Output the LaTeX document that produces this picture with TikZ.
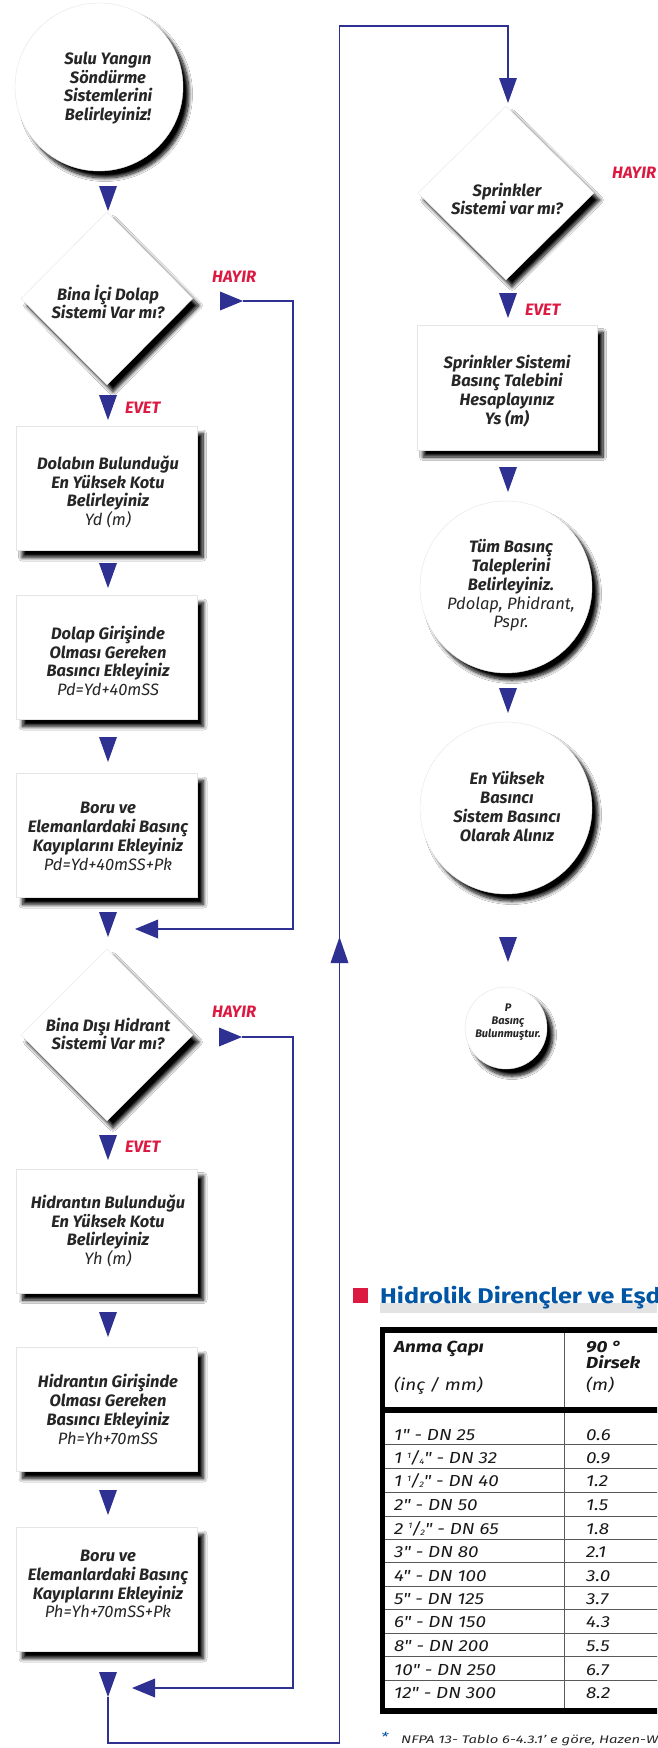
\documentclass[tikz,border=0pt]{standalone}
\usepackage{fontspec}
\setmainfont{Fira Sans}
\newfontfamily\tblfont{Fira Sans}[FakeStretch=1.18]
\newfontfamily\fnfont{Fira Sans}[FakeStretch=1.35]
\usetikzlibrary{shapes.geometric,shadows.blur}
\definecolor{flowblue}{RGB}{46,49,146}
\definecolor{labred}{RGB}{220,25,65}
\definecolor{titleblue}{RGB}{0,85,165}
\newcommand\myfrac[2]{\raisebox{0.6ex}{\fontsize{8}{8}\selectfont #1}\kern-0.05em/\kern-0.05em\raisebox{-0.15ex}{\fontsize{8}{8}\selectfont #2}}
\tikzset{
  shad/.style={blur shadow={shadow xshift=6pt, shadow yshift=-7pt, shadow blur radius=3.5pt, shadow blur steps=10, shadow opacity=100}},
  boxst/.style={rectangle, fill=white, draw=gray!20, line width=0.4pt, minimum width=181pt, minimum height=124pt, inner sep=0pt, shad},
  circst/.style={circle, fill=white, draw=gray!20, line width=0.4pt, inner sep=0pt, shad},
  diast/.style={diamond, fill=white, draw=gray!20, line width=0.4pt, inner sep=0pt, shad},
  ftxt/.style={align=center, inner sep=0pt, font=\fontsize{16.5}{18.8}\selectfont\bfseries\itshape, text=black!85},
  lab/.style={anchor=base west, inner sep=0pt, text=labred, font=\fontsize{16.5}{18}\selectfont\bfseries\itshape},
  flow/.style={draw=flowblue, line width=1.8pt},
  tbl/.style={anchor=base west, inner sep=0pt, font=\tblfont\fontsize{16}{18}\selectfont\itshape, text=black!90},
  tblh/.style={anchor=base west, inner sep=0pt, font=\tblfont\fontsize{16}{18}\selectfont\bfseries\itshape, text=black!90},
  trid/.pic={\fill[flowblue] (-9,0) -- (9,0) -- (0,25) -- cycle;},
  triu/.pic={\fill[flowblue] (-9,0) -- (9,0) -- (0,-26) -- cycle;},
  trir/.pic={\fill[flowblue] (0,-9.5) -- (0,9.5) -- (23,0) -- cycle;},
  tril/.pic={\fill[flowblue] (0,-9.5) -- (0,9.5) -- (-23,0) -- cycle;},
}
\begin{document}
\begin{tikzpicture}[x=1pt,y=-1pt]
\useasboundingbox (0,0) rectangle (657,1748);
\clip (0,0) rectangle (657,1748);
\fill[white] (0,0) rectangle (657,1748);

% ---------- left column ----------
\node[circst, minimum size=168pt] (c1) at (99,87) {};
\node[ftxt] (c1t) at (108,88) {Sulu Yangın\\Söndürme\\Sistemlerini\\Belirleyiniz!};

\node[diast, minimum width=172pt, minimum height=173pt] (d1) at (107,298.5) {};
\node[ftxt] (d1t) at (108,302) {Bina İçi Dolap\\Sistemi Var mı?};

\node[boxst] (b1) at (106.5,488.5) {};
\node[ftxt] (b1t) at (108,492) {Dolabın Bulunduğu\\En Yüksek Kotu\\Belirleyiniz\\{\mdseries Yd (m)}};

\node[boxst] (b2) at (107,657.5) {};
\node[ftxt] (b2t) at (108,661) {Dolap Girişinde\\Olması Gereken\\Basıncı Ekleyiniz\\{\mdseries Pd=Yd+40mSS}};

\node[boxst] (b3) at (107,835.5) {};
\node[ftxt] (b3t) at (108,836.5) {Boru ve\\Elemanlardaki Basınç\\Kayıplarını Ekleyiniz\\{\mdseries Pd=Yd+40mSS+Pk}};

\node[diast, minimum width=172pt, minimum height=172pt] (d2) at (107,1035) {};
\node[ftxt] (d2t) at (108,1034) {Bina Dışı Hidrant\\Sistemi Var mı?};

\node[boxst] (b4) at (107,1231) {};
\node[ftxt] (b4t) at (108,1231) {Hidrantın Bulunduğu\\En Yüksek Kotu\\Belirleyiniz\\{\mdseries Yh (m)}};

\node[boxst] (b5) at (107,1409.5) {};
\node[ftxt] (b5t) at (108,1409.5) {Hidrantın Girişinde\\Olması Gereken\\Basıncı Ekleyiniz\\{\mdseries Ph=Yh+70mSS}};

\node[boxst] (b6) at (107,1589.5) {};
\node[ftxt] (b6t) at (108,1584) {Boru ve\\Elemanlardaki Basınç\\Kayıplarını Ekleyiniz\\{\mdseries Ph=Yh+70mSS+Pk}};

% ---------- right column ----------
\node[diast, minimum width=176pt, minimum height=174pt] (d3) at (506,193) {};
\node[ftxt] (d3t) at (507,199) {Sprinkler\\Sistemi var mı?};

\node[boxst, minimum width=180pt, minimum height=125pt] (b7) at (507,387.5) {};
\node[ftxt] (b7t) at (507,391) {Sprinkler Sistemi\\Basınç Talebini\\Hesaplayınız\\Ys (m)};

\node[circst, minimum size=172pt] (c2) at (506,587) {};
\node[ftxt] (c2t) at (511,585.5) {Tüm Basınç\\Taleplerini\\Belirleyiniz.\\{\mdseries Pdolap, Phidrant,}\\{\mdseries Pspr.}};

\node[circst, minimum size=172pt] (c3) at (506,808) {};
\node[ftxt] (c3t) at (507,806.5) {En Yüksek\\Basıncı\\Sistem Basıncı\\Olarak Alınız};

\node[circst, minimum size=82pt] (c4) at (506,1028) {};
\node[ftxt, font=\fontsize{11}{13}\selectfont\bfseries\itshape] (c4t) at (508,1022) {P\\Basınç\\Bulunmuştur.};

% ---------- flow markers ----------
\foreach \yy in {186,395,563,737,912,1135,1312,1490,1672} \pic at (108,\yy) {trid};
\foreach \yy in {78,293,467,688,937} \pic at (508,\yy) {trid};
\pic at (220,301) {trir};
\pic at (219,1037) {trir};
\pic at (158,929) {tril};
\pic at (155,1688) {tril};
\pic at (339.5,963) {triu};

% ---------- connectors ----------
\coordinate (h1s) at (243,301);
\coordinate (h1a) at (293,301);
\coordinate (h1b) at (293,929);
\coordinate (h1e) at (158,929);
\draw[flow] (h1s) -- (h1a) -- (h1b) -- (h1e);

\coordinate (h2s) at (242,1037);
\coordinate (h2a) at (293,1037);
\coordinate (h2b) at (293,1688);
\coordinate (h2e) at (155,1688);
\draw[flow] (h2s) -- (h2a) -- (h2b) -- (h2e);

\coordinate (ls) at (108,1697);
\coordinate (la) at (108,1743);
\coordinate (lb) at (339.5,1743);
\coordinate (lc) at (339.5,26);
\coordinate (ld) at (508,26);
\coordinate (le) at (508,78);
\draw[flow] (ls) -- (la) -- (lb) -- (lc) -- (ld) -- (le);

% ---------- labels ----------
\node[lab] (hay1) at (212,282) {HAYIR};
\node[lab] (hay2) at (212,1017) {HAYIR};
\node[lab] (hay3) at (612,178) {HAYIR};
\node[lab] (ev1) at (125,413) {EVET};
\node[lab] (ev2) at (125,1152) {EVET};
\node[lab] (ev3) at (525,315) {EVET};

% ---------- title ----------
\fill[labred] (353,1288) rectangle (368,1303);
\fill[gray!22] (380,1303) rectangle (657,1313);
\node[anchor=base west, inner sep=0pt, text=titleblue, font=\tblfont\fontsize{21.3}{24}\selectfont\bfseries] (title) at (380,1303) {Hidrolik Dirençler ve Eşdeğer Uzunluklar};

% ---------- table ----------
\foreach \yy in {1444.3,1468.3,1492.3,1516,1539.3,1562.7,1586,1609.3,1633.3,1656.7,1680.7}
  \draw[line width=0.9pt, black!65] (385,\yy) -- (680,\yy);
\draw[line width=1pt, black!65] (564,1333) -- (564,1708);
\draw[line width=5.5pt] (382.5,1714) -- (382.5,1330) -- (680,1330);
\draw[line width=5.5pt] (380,1711) -- (680,1711);
\draw[line width=5.5pt] (385,1410) -- (680,1410);

\node[tblh] (h11) at (394,1352) {Anma Çapı};
\node[tbl] (h12) at (394,1390) {(inç / mm)};
\node[tblh] (h21) at (586,1352) {90 °};
\node[tblh] (h22) at (586,1368) {Dirsek};
\node[tbl] (h23) at (586,1390) {(m)};

\node[tbl] (r1a) at (394,1440) {1" - DN 25};            \node[tbl] (r1b) at (586,1440) {0.6};
\node[tbl] (r2a) at (394,1463.3) {1 \myfrac{1}{4}" - DN 32}; \node[tbl] (r2b) at (586,1463.3) {0.9};
\node[tbl] (r3a) at (394,1486.7) {1 \myfrac{1}{2}" - DN 40}; \node[tbl] (r3b) at (586,1486.7) {1.2};
\node[tbl] (r4a) at (394,1510) {2" - DN 50};            \node[tbl] (r4b) at (586,1510) {1.5};
\node[tbl] (r5a) at (394,1534) {2 \myfrac{1}{2}" - DN 65};   \node[tbl] (r5b) at (586,1534) {1.8};
\node[tbl] (r6a) at (394,1557.3) {3" - DN 80};          \node[tbl] (r6b) at (586,1557.3) {2.1};
\node[tbl] (r7a) at (394,1581) {4" - DN 100};           \node[tbl] (r7b) at (586,1581) {3.0};
\node[tbl] (r8a) at (394,1604.3) {5" - DN 125};         \node[tbl] (r8b) at (586,1604.3) {3.7};
\node[tbl] (r9a) at (394,1627.7) {6" - DN 150};         \node[tbl] (r9b) at (586,1627.7) {4.3};
\node[tbl] (r10a) at (394,1651.7) {8" - DN 200};        \node[tbl] (r10b) at (586,1651.7) {5.5};
\node[tbl] (r11a) at (394,1675) {10" - DN 250};         \node[tbl] (r11b) at (586,1675) {6.7};
\node[tbl] (r12a) at (394,1698.3) {12" - DN 300};       \node[tbl] (r12b) at (586,1698.3) {8.2};

% ---------- footnote ----------
\node[anchor=base west, inner sep=0pt, text=titleblue, font=\fnfont\fontsize{12.5}{14}\selectfont\itshape] (fnstar) at (381,1741) {*};
\node[anchor=base west, inner sep=0pt, text=black!85, font=\fnfont\fontsize{11}{14}\selectfont\itshape] (fn) at (401,1743) {NFPA 13- Tablo 6-4.3.1’ e göre, Hazen-Williams};
\end{tikzpicture}
\end{document}
